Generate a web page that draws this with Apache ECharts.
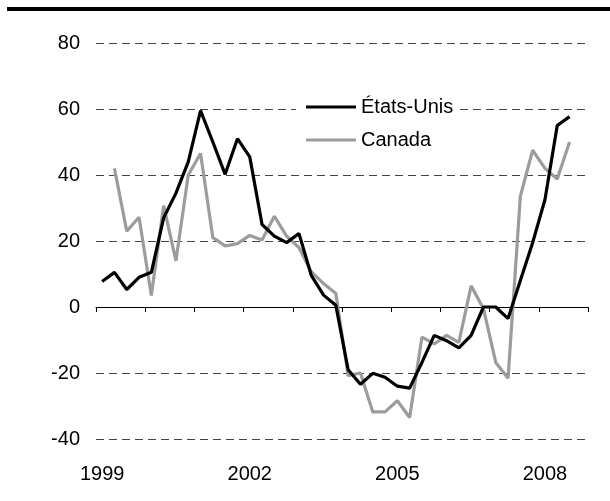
<!DOCTYPE html>
<html>
<head>
<meta charset="utf-8">
<script src="https://cdn.jsdelivr.net/npm/echarts@6/dist/echarts.min.js"></script>
<style>
  html, body { margin: 0; padding: 0; background: #fff; }
  #chart { width: 610px; height: 501px; }
</style>
</head>
<body>
<div id="chart"></div>
<script>
// trimestres 1999T1 .. 2008T4
var years = ['1999', '2000', '2001', '2002', '2003', '2004', '2005', '2006', '2007', '2008'];
var quarters = ['T1', 'T2', 'T3', 'T4'];
var categories = [];
years.forEach(function (y) {
  quarters.forEach(function (q) { categories.push(y + ' ' + q); });
});

var usData = [7.7, 10.5, 5.3, 9.0, 10.5, 27, 34.5, 44, 59.5, 50,
  40.2, 51, 45.5, 25, 21.5, 19.5, 22.3, 9.6, 3.6, 0.5,
  -19, -23.4, -20.1, -21.3, -24, -24.6, -16.8, -8.6, -10.2, -12.4,
  -8.6, 0, 0, -3.5, 8, 19.5, 32.5, 55, 57.7, null];
var canadaData = [null, 42, 23, 27.2, 3.5, 30.7, 14, 40, 46.5, 21,
  18.5, 19.2, 21.7, 20.3, 27.5, 21.5, 18, 10.7, 7.1, 4.1,
  -20.8, -20, -31.8, -31.8, -28.4, -33.5, -9.1, -11.2, -8.6, -10.7,
  6.4, -0.5, -16.8, -21.6, 33.5, 47.5, 42, 38.8, 50, null];
var yTicks = [-40, -20, 0, 20, 40, 60, 80];

var font = 'Liberation Sans, Arial, sans-serif';
var chart = echarts.init(document.getElementById('chart'));
var option = {
  animation: false,
  textStyle: { fontFamily: font },
  graphic: [{
    type: 'rect',
    shape: { x: 7, y: 7, width: 603, height: 4 },
    style: { fill: '#000' }
  }],
  legend: {
    left: 296,
    top: 94,
    padding: [3, 6, 3, 10],
    backgroundColor: '#fff',
    orient: 'vertical',
    icon: 'rect',
    itemWidth: 50,
    itemHeight: 3,
    itemGap: 13,
    textStyle: { fontSize: 20, color: '#000', fontFamily: font },
    data: ['États-Unis', 'Canada']
  },
  grid: { left: 96, right: 22, top: 43, bottom: 62 },
  xAxis: [
    {
      // étiquettes en bas
      type: 'category',
      data: categories,
      position: 'bottom',
      axisLine: { show: false, onZero: false },
      axisTick: { show: false },
      axisLabel: {
        interval: 11,
        margin: 25,
        fontSize: 20,
        color: '#000',
        fontFamily: font,
        formatter: function (v) { return v.split(' ')[0]; }
      }
    },
    {
      // ligne du zéro avec graduations annuelles
      type: 'category',
      data: categories,
      position: 'bottom',
      axisLine: { show: true, onZero: true, lineStyle: { color: '#000', width: 1 } },
      axisTick: { show: true, interval: 3, length: 5, lineStyle: { color: '#000' } },
      axisLabel: { show: false }
    }
  ],
  yAxis: {
    type: 'value',
    min: yTicks[0],
    max: yTicks[yTicks.length - 1],
    interval: 20,
    axisLine: { show: false },
    axisTick: { show: false },
    axisLabel: { fontSize: 20, color: '#000', margin: 16, fontFamily: font },
    splitLine: {
      show: true,
      lineStyle: { color: '#444', width: 1, type: [8, 5] }
    }
  },
  series: [
    {
      name: 'États-Unis',
      type: 'line',
      xAxisIndex: 0,
      data: usData,
      symbol: 'none',
      lineStyle: { color: '#000', width: 3.2 },
      itemStyle: { color: '#000' },
      z: 3
    },
    {
      name: 'Canada',
      type: 'line',
      xAxisIndex: 0,
      data: canadaData,
      symbol: 'none',
      lineStyle: { color: '#9c9c9c', width: 3.2 },
      itemStyle: { color: '#9c9c9c' },
      z: 2
    }
  ]
};
chart.setOption(option);
</script>
</body>
</html>
